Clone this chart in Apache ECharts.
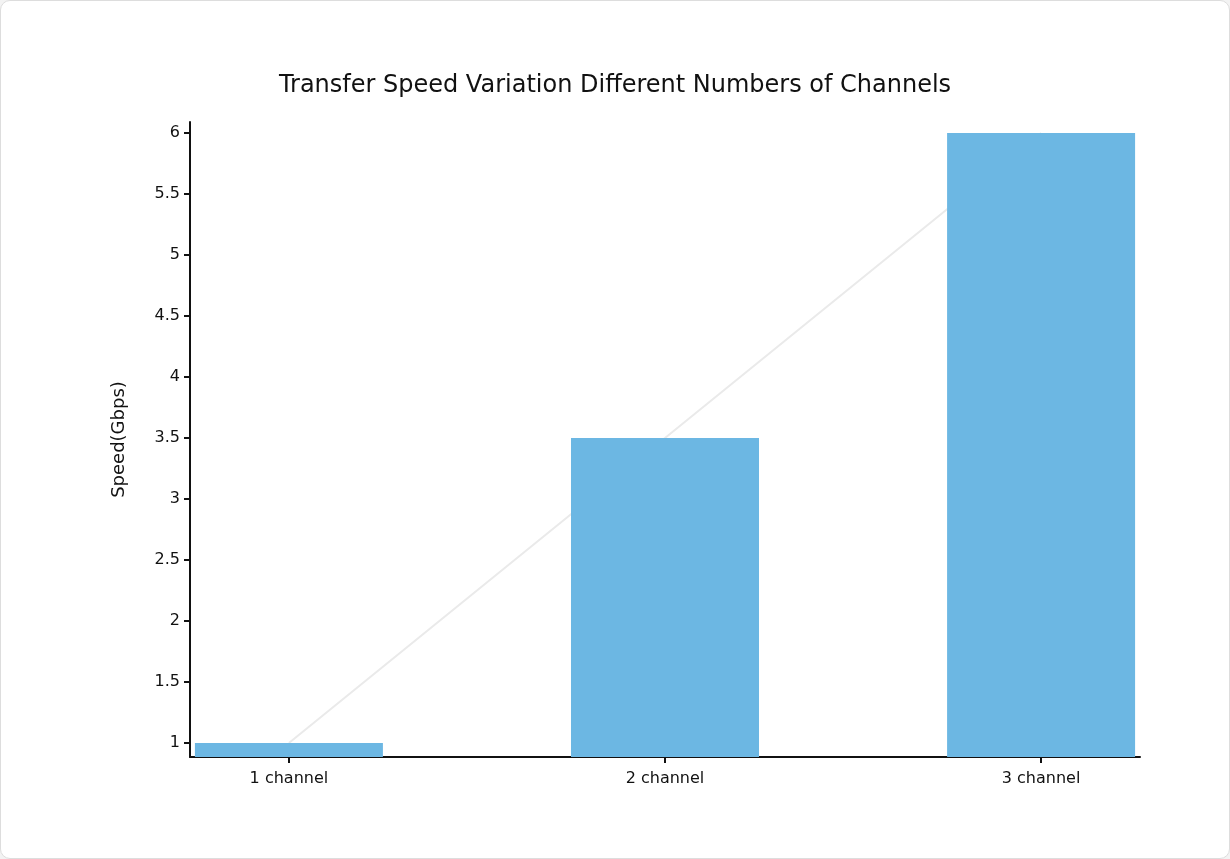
<!DOCTYPE html>
<html><head><meta charset="utf-8">
<script src="https://cdn.jsdelivr.net/npm/echarts@6/dist/echarts.min.js"></script>
<style>
html,body{margin:0;padding:0;background:#f3f3f3;}
#card{position:absolute;left:0;top:0;width:1228px;height:857px;background:#fff;border:1px solid #ddd;border-radius:10px;}
#c{width:1228px;height:857px;}
</style></head><body>
<div id="card"><div id="c"></div></div>
<script>
const categories = ['1 channel', '2 channel', '3 channel'];
const positions = [1, 2, 3];
const speeds = [1, 3.5, 6];
const yTicks = [1, 1.5, 2, 2.5, 3, 3.5, 4, 4.5, 5, 5.5, 6];

const pts = positions.map((p, i) => [p, speeds[i]]);
const chart = echarts.init(document.getElementById('c'));
const font = 'DejaVu Sans';
chart.setOption({
  animation: false,
  title: { text: 'Transfer Speed Variation Different Numbers of Channels', left: 'center', top: 68,
    textStyle: { fontFamily: font, fontSize: 24, fontWeight: 'normal', color: '#111' } },
  grid: { left: 189, right: 89, top: 121, bottom: 101 },
  xAxis: { type: 'value', min: 0.737, max: 3.263,
    axisLine: { lineStyle: { color: '#111', width: 2 } },
    splitLine: { show: false },
    axisTick: { customValues: positions, length: 6, lineStyle: { color: '#111', width: 2 } },
    axisLabel: { customValues: positions, margin: 14, fontFamily: font, fontSize: 16, color: '#111',
      formatter: v => categories[positions.indexOf(Math.round(v))] || '' } },
  yAxis: { type: 'value', min: 0.885, max: 6.09, name: 'Speed(Gbps)', nameLocation: 'middle', nameGap: 62,
    nameTextStyle: { fontFamily: font, fontSize: 18, color: '#111' },
    axisLine: { show: true, lineStyle: { color: '#111', width: 2 } },
    splitLine: { show: false },
    axisTick: { show: true, customValues: yTicks, length: 6, lineStyle: { color: '#111', width: 2 } },
    axisLabel: { customValues: yTicks, fontFamily: font, fontSize: 16, color: '#111', margin: 10 } },
  series: [
    { type: 'line', data: pts, symbol: 'none', z: 1, lineStyle: { color: '#eaeaea', width: 2 } },
    { type: 'bar', data: pts, barWidth: 188, z: 2, itemStyle: { color: '#6cb7e3' } }
  ]
});
</script></body></html>
